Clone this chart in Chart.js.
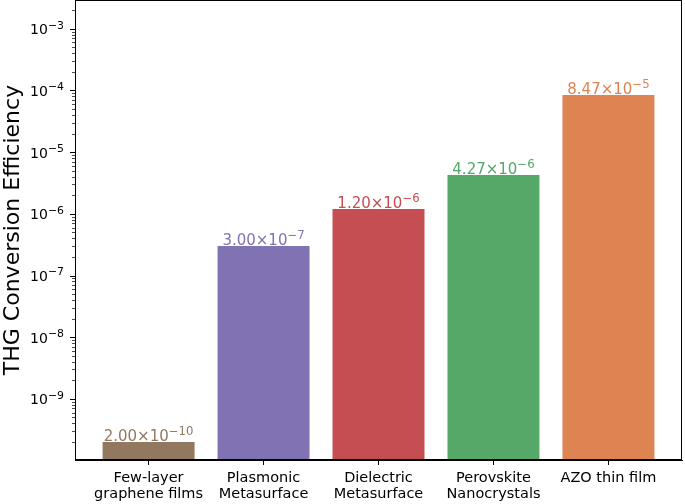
<!DOCTYPE html>
<html>
<head>
<meta charset="utf-8">
<script src="https://cdn.jsdelivr.net/npm/chart.js@4.4.0/dist/chart.umd.min.js"></script>
<style>
  html, body { margin: 0; padding: 0; background: #fff; }
</style>
</head>
<body>
<canvas id="thgChart" width="685" height="504"></canvas>
<script>
// data
const categories = [
  ['Few-layer', 'graphene films'],
  ['Plasmonic', 'Metasurface'],
  ['Dielectric', 'Metasurface'],
  ['Perovskite', 'Nanocrystals'],
  ['AZO thin film'],
];
const efficiency = [2.00e-10, 3.00e-7, 1.20e-6, 4.27e-6, 8.47e-5];
const barColors = ['#937860', '#8172b3', '#c44e52', '#55a868', '#dd8452'];

const yTickValues = [1e-9, 1e-8, 1e-7, 1e-6, 1e-5, 1e-4, 1e-3];
const yTickExps = [-9, -8, -7, -6, -5, -4, -3];
const yMin = 1.02e-10;
const yMax = 2.93e-3;

const FONT = "'DejaVu Sans', sans-serif";
const SIZE = 14.5;

// draws "base" followed by a raised exponent, matplotlib mathtext style
function drawPow(ctx, base, exp, x, baseline, size, align, color) {
  const supSize = size * 0.78;
  const sup = String(exp).replace('-', '\u2212');
  ctx.font = size + 'px ' + FONT;
  const w1 = ctx.measureText(base).width;
  ctx.font = supSize + 'px ' + FONT;
  const w2 = ctx.measureText(sup).width;
  const total = w1 + w2;
  const x0 = align === 'right' ? x - total : align === 'center' ? x - total / 2 : x;
  ctx.fillStyle = color;
  ctx.textAlign = 'left';
  ctx.textBaseline = 'alphabetic';
  ctx.font = size + 'px ' + FONT;
  ctx.fillText(base, x0, baseline);
  ctx.font = supSize + 'px ' + FONT;
  ctx.fillText(sup, x0 + w1, baseline - size * 0.41);
}

function splitSci(v) {
  const exp = Math.floor(Math.log10(v) + 1e-9);
  const mant = v / Math.pow(10, exp);
  return { base: mant.toFixed(2) + '\u00d710', exp };
}

// minor ticks 2..9 inside each decade (matplotlib log locator)
function logTicks(min, max) {
  const out = [];
  for (let e = Math.floor(Math.log10(min)); e <= Math.ceil(Math.log10(max)); e++) {
    for (let m = 1; m <= 9; m++) {
      const v = m * Math.pow(10, e);
      if (v >= min && v <= max) out.push({ value: v, major: m === 1 });
    }
  }
  return out;
}

// frame, y tick marks and y tick labels (10^n)
const framePlugin = {
  id: 'frame',
  afterDraw(chart) {
    const { ctx, chartArea: a } = chart;
    const y = chart.scales.y;
    ctx.save();
    ctx.strokeStyle = '#000';
    ctx.lineWidth = 1;
    ctx.strokeRect(a.left + 0.5, a.top + 0.5, a.right - a.left - 1, a.bottom - a.top - 1);
    y.ticks.forEach(t => {
      const py = Math.round(y.getPixelForValue(t.value)) + 0.5;
      const len = t.major ? 5 : 3;
      ctx.lineWidth = t.major ? 1 : 0.7;
      ctx.beginPath();
      ctx.moveTo(a.left, py);
      ctx.lineTo(a.left - len, py);
      ctx.stroke();
    });
    yTickValues.forEach((v, i) => {
      const py = y.getPixelForValue(v);
      drawPow(ctx, '10', yTickExps[i], a.left - 11, py + 5.6, 14, 'right', '#000');
    });
    ctx.restore();
  }
};

// value labels above bars
const valueLabels = {
  id: 'valueLabels',
  afterDatasetsDraw(chart) {
    const { ctx } = chart;
    const meta = chart.getDatasetMeta(0);
    ctx.save();
    meta.data.forEach((bar, i) => {
      const s = splitSci(efficiency[i]);
      drawPow(ctx, s.base, s.exp, bar.x, bar.y - 1, 15, 'center', barColors[i]);
    });
    ctx.restore();
  }
};

new Chart(document.getElementById('thgChart'), {
  type: 'bar',
  data: {
    datasets: [{
      data: efficiency.map((v, i) => ({ x: i, y: v })),
      backgroundColor: barColors,
      borderWidth: 0,
      categoryPercentage: 1,
      barPercentage: 0.8,
    }]
  },
  options: {
    responsive: false,
    devicePixelRatio: 1,
    animation: false,
    layout: { padding: { top: 0, right: 3, left: 0, bottom: 0 } },
    plugins: { legend: { display: false }, tooltip: { enabled: false } },
    scales: {
      x: {
        type: 'linear',
        offset: false,
        min: -0.64,
        max: 4.64,
        afterBuildTicks: s => { s.ticks = categories.map((c, i) => ({ value: i })); },
        afterFit: s => { s.height = 44; s.paddingLeft = 0; s.paddingRight = 0; },
        ticks: {
          callback: v => categories[v],
          color: '#000',
          font: { family: FONT, size: SIZE, lineHeight: 1.05 },
          padding: 6,
          maxRotation: 0,
          autoSkip: false,
        },
        grid: { offset: false, drawOnChartArea: false, tickLength: 5, color: '#000' },
        border: { color: '#000' },
      },
      y: {
        type: 'logarithmic',
        min: yMin,
        max: yMax,
        afterBuildTicks: s => { s.ticks = logTicks(yMin, yMax); },
        afterFit: s => { s.width = 75; s.paddingTop = 0; s.paddingBottom = 0; },
        ticks: { display: false },
        grid: { display: false },
        border: { color: '#000' },
        title: {
          display: true,
          text: 'THG Conversion Efficiency',
          color: '#000',
          font: { family: FONT, size: 22 },
          padding: { top: 0, bottom: 4 },
        },
      }
    }
  },
  plugins: [framePlugin, valueLabels]
});
</script>
</body>
</html>
